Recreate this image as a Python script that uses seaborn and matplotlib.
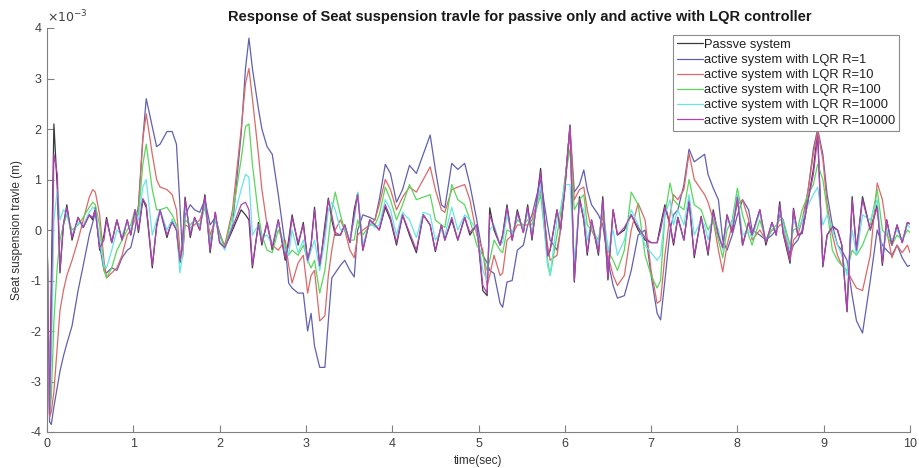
import numpy as np
import pandas as pd
import matplotlib
matplotlib.use("Agg")
import matplotlib.pyplot as plt
from matplotlib.lines import Line2D
from matplotlib.ticker import MultipleLocator, FuncFormatter
import seaborn as sns

# Sample times (s)
time_s = [
    0.00, 0.03, 0.05, 0.08, 0.12, 0.15, 0.19, 0.23, 0.29, 0.36,
    0.42, 0.49, 0.53, 0.56, 0.61, 0.66, 0.69, 0.75, 0.81, 0.87,
    0.93, 0.97, 1.02, 1.06, 1.11, 1.15, 1.22, 1.27, 1.31, 1.39,
    1.45, 1.50, 1.54, 1.57, 1.60, 1.66, 1.71, 1.77, 1.83, 1.89,
    1.95, 2.00, 2.06, 2.15, 2.25, 2.30, 2.34, 2.38, 2.45, 2.49,
    2.55, 2.61, 2.68, 2.76, 2.80, 2.84, 2.91, 2.97, 3.02, 3.06,
    3.10, 3.16, 3.22, 3.26, 3.30, 3.34, 3.40, 3.45, 3.51, 3.56,
    3.60, 3.66, 3.74, 3.80, 3.85, 3.92, 3.98, 4.05, 4.12, 4.20,
    4.28, 4.36, 4.44, 4.50, 4.57, 4.61, 4.69, 4.76, 4.84, 4.90,
    4.98, 5.05, 5.10, 5.13, 5.18, 5.25, 5.28, 5.33, 5.39, 5.45,
    5.52, 5.57, 5.62, 5.72, 5.80, 5.83, 5.91, 5.95, 6.00, 6.06,
    6.11, 6.17, 6.22, 6.26, 6.31, 6.39, 6.44, 6.50, 6.56, 6.61,
    6.69, 6.77, 6.85, 6.93, 7.00, 7.07, 7.11, 7.16, 7.22, 7.26,
    7.31, 7.38, 7.44, 7.50, 7.58, 7.62, 7.66, 7.72, 7.78, 7.83,
    7.88, 7.94, 8.00, 8.06, 8.13, 8.17, 8.26, 8.33, 8.40, 8.45,
    8.49, 8.53, 8.61, 8.65, 8.70, 8.75, 8.82, 8.88, 8.93, 8.99,
    9.04, 9.10, 9.16, 9.21, 9.27, 9.33, 9.38, 9.45, 9.54, 9.62,
    9.68, 9.73, 9.79, 9.85, 9.91, 9.97, 10.00,
]

# Seat suspension travel, in units of 1e-3 m
passive = [
    0.00, -3.70, -1.00, 2.10, 0.80, -0.85, 0.10, 0.50, -0.20, 0.25,
    0.05, 0.30, 0.20, 0.45, -0.40, -0.10, 0.25, -0.25, 0.20, -0.20,
    0.20, -0.10, 0.40, -0.05, 0.60, 0.45, -0.75, 0.10, 0.40, -0.15,
    0.20, 0.00, -0.65, -0.30, 0.65, -0.15, 0.25, 0.00, 0.70, -0.45,
    0.35, -0.25, -0.35, 0.00, 0.40, 0.30, 0.20, -0.75, 0.15, -0.30,
    0.15, -0.40, 0.20, -0.60, -0.20, 0.30, -0.30, 0.15, -0.60, -0.30,
    0.45, -0.75, 0.10, 0.63, 0.20, -0.10, -0.10, 0.10, -0.25, 0.40,
    0.73, -0.40, 0.20, 0.10, 0.00, 0.45, 0.20, -0.30, 0.30, -0.10,
    -0.45, 0.30, 0.10, -0.43, 0.10, -0.20, 0.20, -0.20, 0.25, -0.10,
    0.10, -1.20, -1.30, 0.44, 0.00, -0.30, -0.10, 0.50, -0.20, 0.40,
    -0.05, 0.50, -0.20, 1.22, -0.53, -0.40, 0.40, 0.00, 0.80, 2.08,
    -1.03, 0.66, 0.20, -0.50, 0.20, -0.50, 0.66, -0.99, 0.40, -0.10,
    0.00, 0.30, 0.00, -0.20, -0.25, -0.25, 0.10, 0.50, 0.10, -0.30,
    0.25, -0.20, 0.60, -0.55, 0.27, -0.10, -0.50, 0.40, -0.10, -0.35,
    0.30, -0.05, 0.67, -0.30, 0.15, -0.10, 0.40, -0.30, 0.15, -0.10,
    0.56, -0.07, -0.66, 0.43, -0.10, -0.07, 0.60, 1.20, 1.95, -0.73,
    -0.10, 0.08, 0.00, -0.30, -1.62, 0.66, -0.40, 0.66, 0.00, 0.50,
    -0.70, 0.20, -0.30, 0.10, -0.25, 0.15, 0.12,
]

lqr_r1 = [
    0.00, -3.80, -3.85, -3.50, -3.10, -2.80, -2.50, -2.25, -1.90, -1.20,
    -0.70, -0.10, 0.15, 0.35, -0.30, -0.80, -0.85, -0.75, -0.80, -0.55,
    -0.40, -0.35, 0.00, 0.50, 1.80, 2.60, 2.05, 1.65, 1.70, 1.95,
    1.95, 1.70, 0.50, -0.50, 0.30, 0.50, 0.40, 0.35, 0.60, 0.10,
    0.25, -0.05, -0.35, 0.10, 1.90, 3.20, 3.80, 3.20, 2.40, 2.00,
    1.65, 1.50, 0.70, -0.30, -1.05, -1.15, -1.25, -1.25, -2.00, -1.65,
    -2.30, -2.72, -2.72, -1.80, -0.95, -0.85, -0.70, -0.60, -0.80, -0.93,
    0.00, 0.30, 0.25, 0.20, 0.60, 1.30, 1.12, 0.55, 0.80, 1.28,
    1.12, 1.50, 1.88, 1.20, 0.50, 0.44, 1.32, 1.20, 1.32, 0.90,
    0.20, -0.50, -0.65, -0.80, -0.86, -1.45, -1.53, -1.03, -1.00, -0.40,
    -0.30, 0.10, 0.30, 1.00, 0.10, -0.20, -0.40, 0.00, 0.90, 2.05,
    0.75, 0.90, 1.19, 0.80, 0.50, 0.30, 0.10, -0.60, -1.10, -1.35,
    -1.30, -0.80, -0.10, 0.00, -0.90, -1.65, -1.78, -1.00, 0.00, 0.30,
    0.40, 0.90, 1.60, 1.35, 1.45, 1.50, 1.10, 0.83, 0.60, -0.20,
    -0.40, -0.10, 0.30, 0.60, 0.40, 0.00, -0.10, -0.20, -0.10, 0.00,
    0.30, 0.20, -0.50, -0.30, -0.20, 0.00, 0.80, 1.60, 2.00, 1.50,
    0.70, 0.10, -0.30, -0.40, -0.60, -1.30, -1.80, -2.04, -1.00, 0.00,
    -0.30, -0.40, -0.50, -0.30, -0.55, -0.72, -0.70,
]

lqr_r10 = [
    0.00, -3.70, -3.60, -3.20, -2.30, -1.60, -1.20, -0.90, -0.60, -0.20,
    0.20, 0.65, 0.80, 0.75, 0.30, -0.60, -0.95, -0.85, -0.75, -0.50,
    -0.10, 0.00, 0.20, 0.40, 1.80, 2.30, 1.50, 1.00, 0.85, 0.80,
    0.70, 0.40, -0.40, -0.55, 0.10, 0.05, 0.10, 0.20, 0.50, -0.10,
    0.20, -0.10, -0.30, 0.40, 2.00, 2.90, 3.20, 2.60, 1.50, 0.80,
    0.10, -0.30, -0.40, -0.20, -0.70, -1.05, -0.65, -0.50, -1.25, -0.90,
    -0.80, -1.80, -1.70, -0.90, -0.40, 0.00, 0.20, 0.00, -0.40, -0.55,
    -0.10, 0.00, 0.10, 0.20, 0.50, 1.00, 0.80, 0.40, 0.65, 0.85,
    0.75, 1.00, 1.25, 0.80, 0.40, 0.35, 0.80, 0.85, 0.90, 0.60,
    -0.10, -0.40, -1.10, -0.90, -0.50, -0.90, -0.85, -0.20, -0.10, 0.10,
    0.10, 0.10, 0.20, 0.80, -0.30, -0.60, -0.50, 0.00, 0.90, 2.00,
    0.60, 0.80, 0.85, 0.40, 0.00, -0.30, 0.30, -0.50, -0.90, -1.10,
    -0.90, 0.00, 0.53, 0.20, -0.80, -1.45, -1.40, -0.50, 0.30, 0.70,
    0.60, 0.80, 1.52, 1.00, 0.80, 0.70, 0.55, 0.20, -0.40, -0.83,
    -0.30, 0.10, 0.50, 0.60, 0.20, -0.20, 0.00, -0.20, 0.00, 0.00,
    0.10, 0.10, -0.60, -0.20, -0.10, 0.20, 0.80, 1.50, 1.95, 1.40,
    0.50, -0.10, -0.50, -0.70, -0.80, -1.00, -1.15, -1.20, -0.50, 0.93,
    0.60, 0.00, -0.55, -0.30, -0.45, -0.30, -0.45,
]

lqr_r100 = [
    0.00, -3.65, -3.30, -1.80, -0.70, -0.20, 0.10, 0.30, 0.00, 0.10,
    0.25, 0.45, 0.55, 0.50, 0.10, -0.80, -0.95, -0.75, -0.40, -0.20,
    0.00, 0.10, 0.40, 0.30, 1.30, 1.70, 0.80, 0.40, 0.40, 0.45,
    0.30, 0.10, -0.60, -0.50, 0.20, 0.10, 0.20, 0.10, 0.45, -0.20,
    0.20, -0.10, -0.35, 0.30, 1.40, 2.05, 2.10, 1.30, 0.30, -0.10,
    -0.40, -0.45, 0.00, -0.30, -0.50, -0.40, -0.50, -0.30, -0.60, -0.75,
    -0.60, -1.25, -0.80, -0.20, 0.40, 0.75, 0.30, 0.00, -0.20, -0.20,
    0.20, -0.10, 0.10, 0.10, 0.30, 0.85, 0.60, 0.20, 0.50, 0.90,
    0.60, 0.65, 0.70, 0.20, 0.10, 0.05, 0.90, 0.60, 0.50, 0.20,
    -0.30, -0.50, -0.80, -0.60, -0.20, -0.40, -0.45, 0.00, -0.05, 0.20,
    0.10, 0.20, 0.10, 0.70, -0.60, -0.90, -0.10, 0.30, 1.00, 1.60,
    0.40, 0.60, 0.70, 0.10, 0.00, -0.20, 0.40, -0.40, -0.60, -0.80,
    -0.40, 0.75, 0.50, -0.50, -0.90, -1.15, -1.00, 0.30, 0.93, 0.60,
    0.50, 0.40, 1.00, 0.50, 0.40, 0.20, 0.00, 0.20, -0.20, -0.55,
    0.00, 0.20, 0.83, 0.30, -0.10, -0.30, 0.20, -0.20, 0.00, 0.10,
    0.20, 0.20, -0.30, 0.00, 0.05, 0.40, 0.70, 0.90, 1.30, 1.00,
    0.40, -0.40, -0.60, -0.70, -0.80, -0.40, -0.50, -0.30, 0.10, 0.80,
    0.00, -0.10, -0.30, -0.10, -0.20, 0.00, -0.05,
]

lqr_r1000 = [
    0.00, -3.60, -2.60, 0.20, 0.80, 0.20, 0.40, 0.30, -0.10, 0.15,
    0.10, 0.35, 0.45, 0.40, -0.20, -0.70, -0.75, -0.40, 0.00, -0.10,
    0.15, 0.00, 0.30, 0.20, 0.85, 1.00, -0.10, 0.20, 0.40, 0.00,
    0.20, 0.05, -0.85, -0.50, 0.50, 0.00, 0.20, 0.05, 0.55, -0.30,
    0.25, -0.20, -0.40, 0.15, 0.80, 1.10, 1.05, -0.10, 0.10, -0.15,
    -0.10, -0.30, 0.15, -0.40, -0.50, 0.00, -0.45, -0.20, -0.65, -0.40,
    -0.20, -0.80, -0.20, 0.40, 0.55, 0.40, 0.00, 0.05, -0.20, 0.20,
    0.75, -0.30, 0.15, 0.05, 0.10, 0.60, 0.40, -0.10, 0.35, 0.20,
    -0.15, 0.35, 0.30, -0.20, 0.00, -0.10, 0.45, 0.00, 0.30, 0.20,
    0.00, -0.80, -1.00, 0.00, 0.10, -0.30, -0.25, 0.30, -0.10, 0.30,
    0.00, 0.35, -0.05, 0.90, -0.70, -0.90, 0.20, 0.40, 0.90, 0.90,
    -0.60, 0.50, 0.40, -0.20, 0.15, -0.30, 0.50, -0.40, 0.00, -0.50,
    -0.20, 0.40, 0.10, -0.30, -0.45, -0.60, -0.50, 0.30, 0.60, 0.10,
    0.40, 0.10, 0.70, -0.10, 0.20, 0.10, -0.20, 0.30, 0.00, -0.40,
    0.20, 0.10, 0.70, -0.10, 0.00, -0.15, 0.35, -0.20, 0.10, 0.00,
    0.40, 0.10, -0.40, 0.20, 0.00, 0.20, 0.50, 0.70, 0.85, 0.10,
    0.30, 0.00, -0.30, -0.50, -0.90, 0.00, -0.50, 0.30, 0.20, 0.60,
    -0.50, 0.00, -0.20, 0.00, -0.20, 0.10, 0.05,
]

lqr_r10000 = [
    0.00, -3.65, -1.50, 1.50, 1.10, -0.80, 0.10, 0.45, -0.15, 0.25,
    0.05, 0.30, 0.25, 0.40, -0.35, -0.20, 0.20, -0.25, 0.20, -0.20,
    0.20, -0.10, 0.40, 0.00, 0.62, 0.50, -0.70, 0.05, 0.40, -0.10,
    0.15, 0.00, -0.60, -0.35, 0.60, -0.10, 0.25, 0.00, 0.65, -0.40,
    0.35, -0.25, -0.35, 0.05, 0.50, 0.55, 0.40, -0.70, 0.10, -0.25,
    0.15, -0.35, 0.20, -0.55, -0.30, 0.25, -0.25, 0.10, -0.60, -0.30,
    0.40, -0.70, 0.00, 0.60, 0.30, -0.05, -0.10, 0.10, -0.25, 0.30,
    0.70, -0.40, 0.20, 0.10, 0.00, 0.50, 0.25, -0.25, 0.30, -0.05,
    -0.40, 0.30, 0.10, -0.40, 0.10, -0.20, 0.25, -0.20, 0.25, -0.05,
    0.10, -1.10, -1.25, 0.30, 0.05, -0.30, -0.10, 0.45, -0.20, 0.35,
    -0.05, 0.45, -0.15, 1.15, -0.50, -0.40, 0.40, 0.00, 0.80, 2.05,
    -1.00, 0.60, 0.20, -0.45, 0.20, -0.45, 0.60, -0.95, 0.40, -0.10,
    0.05, 0.30, 0.05, -0.15, -0.25, -0.25, 0.00, 0.45, 0.10, -0.25,
    0.25, -0.20, 0.55, -0.50, 0.25, -0.10, -0.45, 0.35, -0.10, -0.35,
    0.30, -0.05, 0.65, -0.30, 0.15, -0.10, 0.40, -0.25, 0.15, -0.10,
    0.50, -0.05, -0.60, 0.40, -0.10, -0.05, 0.60, 1.10, 1.85, -0.70,
    -0.10, 0.05, 0.00, -0.30, -1.60, 0.60, -0.40, 0.60, 0.00, 0.45,
    -0.65, 0.20, -0.30, 0.10, -0.25, 0.15, 0.12,
]

series_names = [
    "Passve system",
    "active system with LQR R=1",
    "active system with LQR R=10",
    "active system with LQR R=100",
    "active system with LQR R=1000",
    "active system with LQR R=10000",
]
series_values = [passive, lqr_r1, lqr_r10, lqr_r100, lqr_r1000, lqr_r10000]
line_colors = ["#3a3a3a", "#6060b0", "#dc6868", "#5ad65a", "#66e6e6", "#b040b4"]

for vals in series_values:
    assert len(vals) == len(time_s)

frames = []
for name, vals in zip(series_names, series_values):
    frames.append(pd.DataFrame({
        "time": time_s,
        "travel": np.asarray(vals) * 1e-3,
        "series": name,
    }))
df = pd.concat(frames, ignore_index=True)

sns.set_theme(style="white")
plt.rcParams["font.family"] = ["Liberation Sans", "DejaVu Sans"]
plt.rcParams["axes.unicode_minus"] = False

fig = plt.figure(figsize=(9.19, 4.68), dpi=100)
ax = fig.add_axes([47 / 919, 1 - 432 / 468, 863 / 919, 404 / 468])

sns.lineplot(
    data=df, x="time", y="travel", hue="series",
    hue_order=series_names, palette=line_colors,
    estimator=None, sort=False, linewidth=0.9, legend=False, ax=ax,
)

ax.set_xlim(0, 10)
ax.set_ylim(-4e-3, 4e-3)
ax.xaxis.set_major_locator(MultipleLocator(1))
ax.yaxis.set_major_locator(MultipleLocator(1e-3))
# tick labels in units of 1e-3, with the exponent shown above the axis
ax.yaxis.set_major_formatter(FuncFormatter(lambda v, _: f"{v * 1e3:.0f}"))
ax.text(0.0, 1.006, r"$\times10^{-3}$", transform=ax.transAxes,
        fontsize=9, color="#404040", ha="left", va="bottom")

for side in ("top", "right"):
    ax.spines[side].set_visible(False)
for side in ("left", "bottom"):
    ax.spines[side].set_color("#808080")
    ax.spines[side].set_linewidth(0.8)

ax.tick_params(direction="in", length=5, width=0.8, color="#808080",
               labelsize=9, labelcolor="#404040", left=True, bottom=True, pad=4)

ax.set_xlabel("time(sec)", fontsize=8.5, color="#303030", labelpad=4)
ax.set_ylabel("Seat suspension travle (m)", fontsize=8.5, color="#303030", labelpad=5)
title = ax.set_title(
    "Response of Seat suspension travle for passive only and active with LQR controller",
    fontsize=10.5, fontweight="bold", color="#1a1a1a", pad=5,
)
title.set_x(0.548)

handles = [Line2D([0], [0], color=c, lw=0.9) for c in line_colors]
leg = ax.legend(
    handles, series_names, loc="upper left",
    bbox_to_anchor=(673 / 919, 1 - 35 / 468), bbox_transform=fig.transFigure,
    fontsize=9.3, frameon=True, fancybox=False, framealpha=1,
    edgecolor="#8c8c8c", handlelength=2.0, handletextpad=0.1,
    borderpad=0.3, labelspacing=0.24, borderaxespad=0,
)
leg.get_frame().set_linewidth(0.8)
for txt in leg.get_texts():
    txt.set_color("#202020")

fig.savefig("out.png", dpi=100, facecolor="white")
